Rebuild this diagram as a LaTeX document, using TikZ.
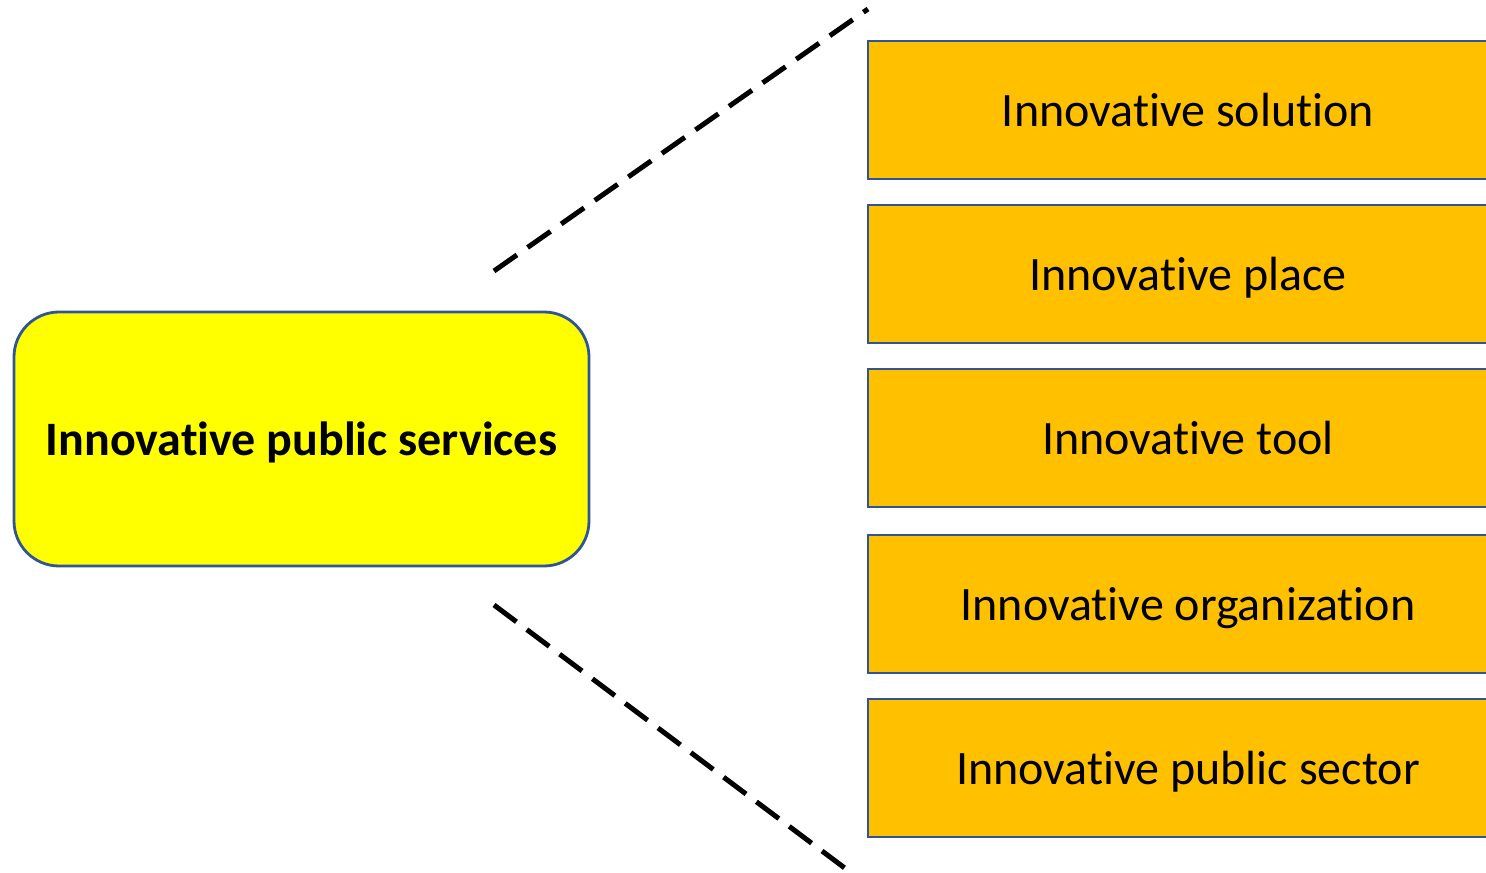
\documentclass[tikz,border=0pt]{standalone}
\usepackage{fontspec}
\setmainfont[Ligatures=NoCommon]{Carlito}
\definecolor{boxblue}{HTML}{2F5597}
\definecolor{orangefill}{HTML}{FFC000}
\definecolor{yellowfill}{HTML}{FFFF00}
\begin{document}
\begin{tikzpicture}[x=0.75pt,y=-0.75pt,
  itembox/.style={draw=boxblue,fill=orangefill,line width=2.8*0.75pt,minimum width=640*0.75pt,minimum height=138*0.75pt,inner sep=0pt,text height=25pt,text depth=0pt,font=\fontsize{36pt}{42pt}\selectfont},
  mainbox/.style={draw=boxblue,fill=yellowfill,line width=2.8*0.75pt,rounded corners=45*0.75pt,minimum width=575*0.75pt,minimum height=254*0.75pt,inner sep=0pt,text height=25pt,text depth=0pt,font=\fontsize{36pt}{42pt}\selectfont\bfseries},
  dashline/.style={line width=5*0.75pt,dash pattern=on 28*0.75pt off 13*0.75pt}]
\useasboundingbox (0,0) rectangle (1486,873);
\clip (0,0) rectangle (1486,873);
\fill[white] (0,0) rectangle (1486,873);
\node[mainbox] (main) at (301.5,439) {Innovative public services};
\node[itembox] (b1) at (1188,110) {Innovative solution};
\node[itembox] (b2) at (1188,274) {Innovative place};
\node[itembox] (b3) at (1188,438) {Innovative tool};
\node[itembox] (b4) at (1188,604) {Innovative organization};
\node[itembox] (b5) at (1188,768) {Innovative public sector};
\coordinate (t0) at (494,271);
\coordinate (t1) at (868,9);
\coordinate (u0) at (494,605);
\coordinate (u1) at (850,872);
\draw[dashline] (t0) -- (t1);
\draw[dashline] (u0) -- (u1);
\end{tikzpicture}
\end{document}
